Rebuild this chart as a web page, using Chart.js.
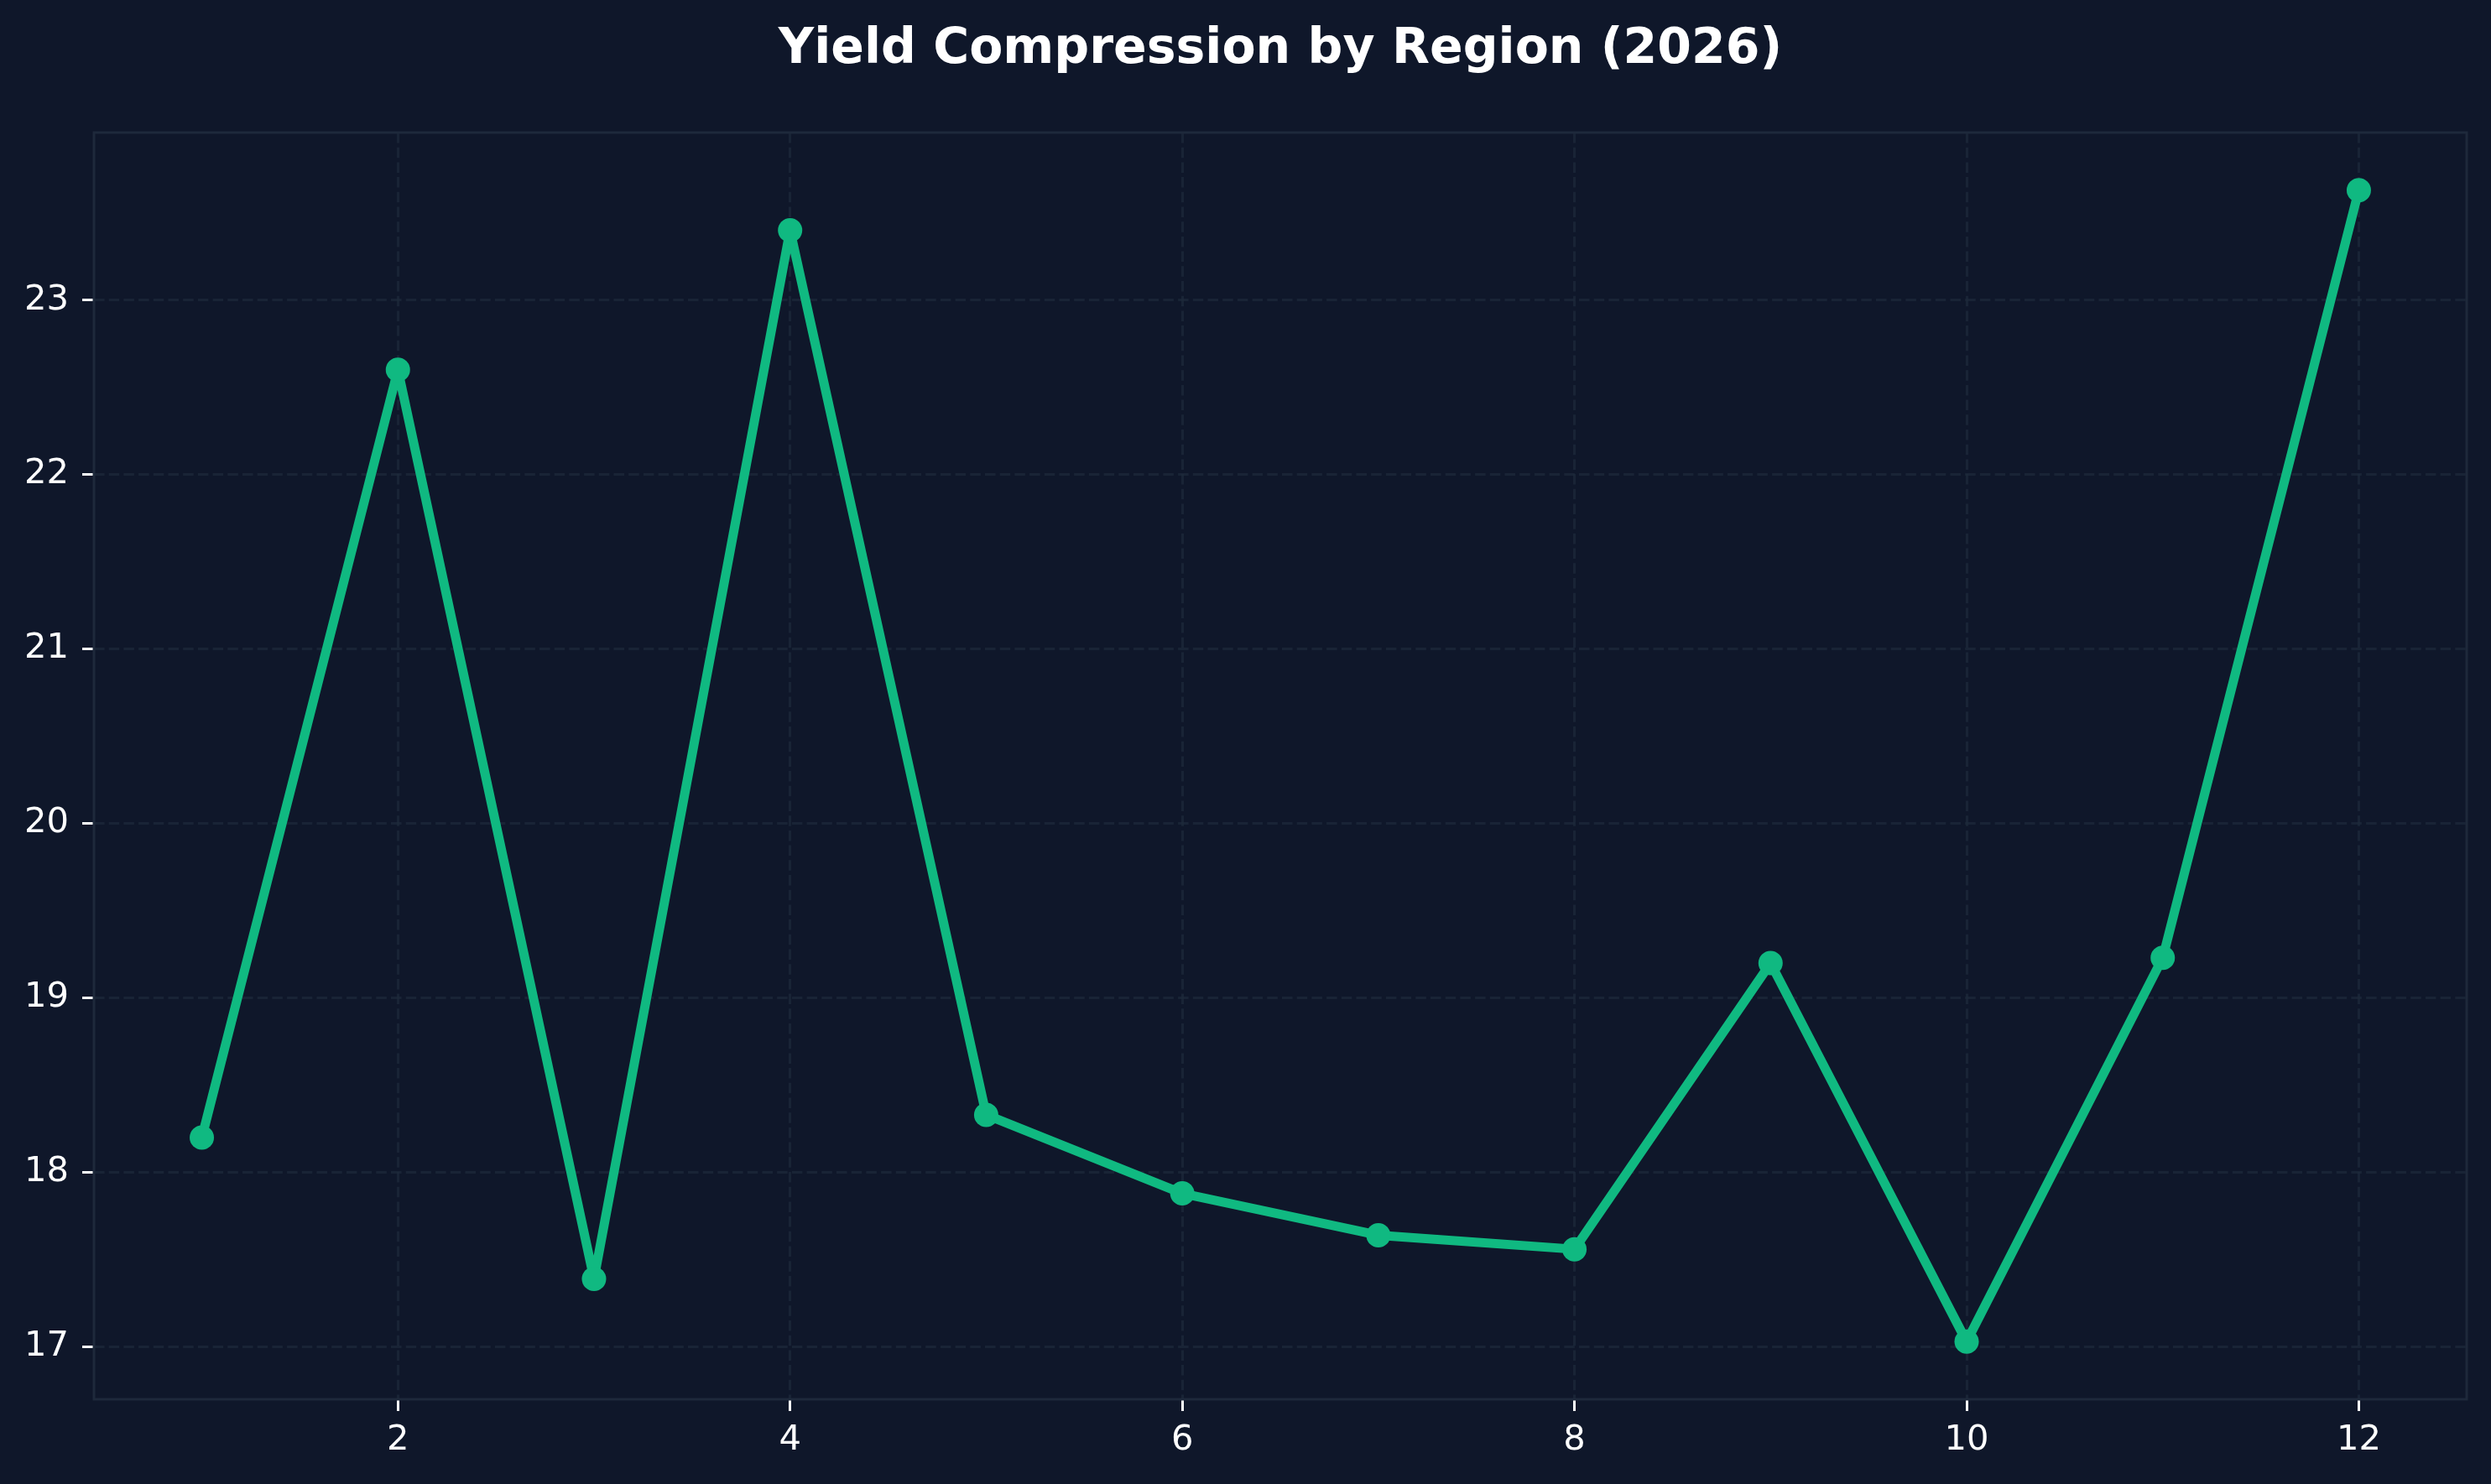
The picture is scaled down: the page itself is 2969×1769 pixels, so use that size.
<!DOCTYPE html>
<html>
<head>
<meta charset="utf-8">
<script src="https://cdn.jsdelivr.net/npm/chart.js@4.4.1/dist/chart.umd.min.js"></script>
<style>
  html, body { margin: 0; padding: 0; background: #0f172a; }
  #wrap { width: 2969px; height: 1769px; }
  canvas { display: block; }
</style>
</head>
<body>
<div id="wrap"><canvas id="c" width="2969" height="1769"></canvas></div>
<script>
const TITLE = 'Yield Compression by Region (2026)';
const categories = [1, 2, 3, 4, 5, 6, 7, 8, 9, 10, 11, 12];
const values = [18.20, 22.60, 17.39, 23.40, 18.33, 17.88, 17.64, 17.56, 19.20, 17.03, 19.23, 23.63];
const xTickValues = [2, 4, 6, 8, 10, 12];
const yTickValues = [17, 18, 19, 20, 21, 22, 23];

const BG = '#0f172a';
const LINE = '#10b981';
const GRID = 'rgba(30,41,59,0.75)';
const SPINE = '#1e293b';
const TEXT = '#ffffff';
const FONT = "'DejaVu Sans', 'Liberation Sans', sans-serif";

// matplotlib-like 5% margins
const xMin = Math.min(...categories), xMax = Math.max(...categories);
const yMin = Math.min(...values), yMax = Math.max(...values);
const xPad = (xMax - xMin) * 0.05, yPad = (yMax - yMin) * 0.05;

const points = categories.map((c, i) => ({ x: c, y: values[i] }));

const bgPlugin = {
  id: 'bg',
  beforeDraw(chart) {
    const ctx = chart.ctx;
    ctx.save();
    ctx.fillStyle = BG;
    ctx.fillRect(0, 0, chart.width, chart.height);
    ctx.restore();
  },
  afterDraw(chart) {
    const ctx = chart.ctx;
    const a = chart.chartArea;
    ctx.save();
    ctx.strokeStyle = SPINE;
    ctx.lineWidth = 3;
    ctx.strokeRect(a.left, a.top, a.right - a.left, a.bottom - a.top);
    ctx.fillStyle = TEXT;
    ctx.font = "bold 58.5px " + FONT;
    ctx.textAlign = 'center';
    ctx.textBaseline = 'alphabetic';
    ctx.fillText(TITLE, (a.left + a.right) / 2, 75);
    ctx.restore();
  }
};

new Chart(document.getElementById('c'), {
  type: 'line',
  data: {
    datasets: [{
      data: points,
      borderColor: LINE,
      backgroundColor: LINE,
      borderWidth: 11,
      pointRadius: 14.5,
      pointHoverRadius: 14.5,
      pointBorderWidth: 0,
      pointBackgroundColor: LINE,
      borderJoinStyle: 'round',
      borderCapStyle: 'round',
      tension: 0,
      fill: false
    }]
  },
  options: {
    responsive: false,
    animation: false,
    devicePixelRatio: 1,
    layout: { padding: { left: 12, right: 29, top: 158, bottom: 11 } },
    plugins: {
      legend: { display: false },
      title: { display: false },
      tooltip: { enabled: false }
    },
    scales: {
      x: {
        type: 'linear',
        min: xMin - xPad,
        max: xMax + xPad,
        afterBuildTicks(scale) { scale.ticks = xTickValues.map(v => ({ value: v })); },
        afterFit(scale) { scale.height = 90; },
        grid: {
          color: GRID,
          lineWidth: 3,
          drawTicks: true,
          tickLength: 14,
          tickColor: TEXT,
          tickWidth: 3
        },
        border: { display: false, dash: [12.5, 5.2] },
        ticks: {
          color: TEXT,
          padding: 10,
          maxRotation: 0,
          font: { family: FONT, size: 41.7 },
          callback: v => String(v)
        }
      },
      y: {
        type: 'linear',
        min: yMin - yPad,
        max: yMax + yPad,
        afterBuildTicks(scale) { scale.ticks = yTickValues.map(v => ({ value: v })); },
        afterFit(scale) { scale.width = 100; },
        grid: {
          color: GRID,
          lineWidth: 3,
          drawTicks: true,
          tickLength: 14,
          tickColor: TEXT,
          tickWidth: 3
        },
        border: { display: false, dash: [12.5, 5.2] },
        ticks: {
          color: TEXT,
          padding: 16,
          font: { family: FONT, size: 41.7 },
          callback: v => String(v)
        }
      }
    }
  },
  plugins: [bgPlugin]
});
</script>
</body>
</html>
